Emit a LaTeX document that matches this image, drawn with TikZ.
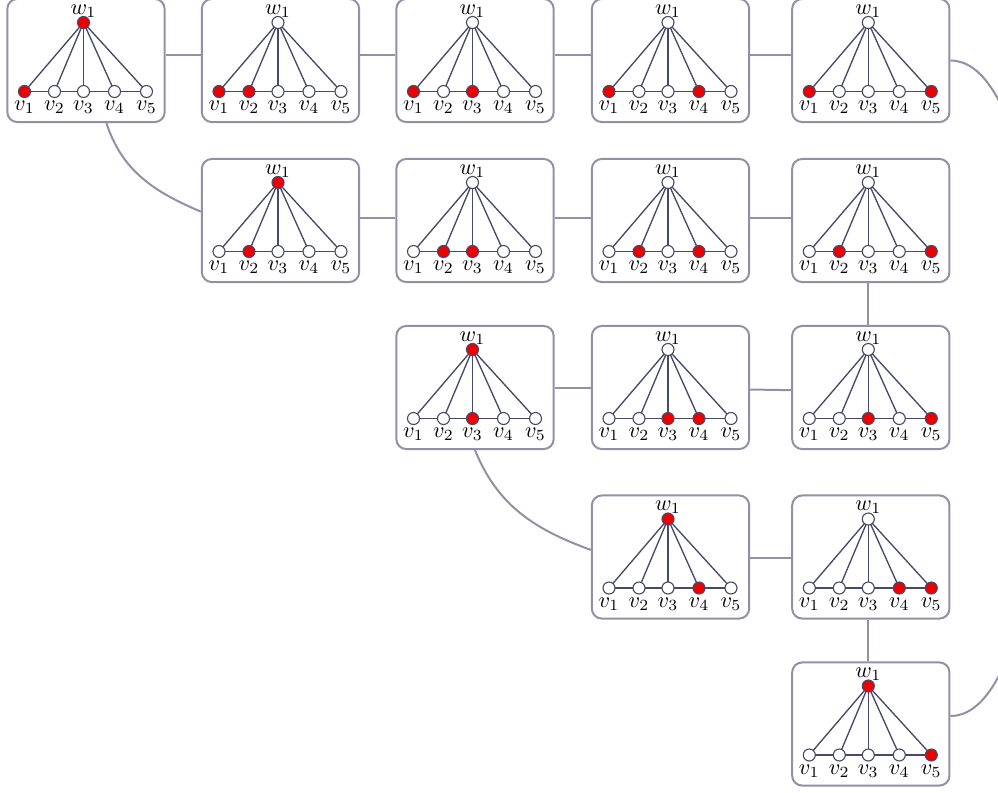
\documentclass[tikz,border=0pt]{standalone}
\usetikzlibrary{calc}
\definecolor{vred}{RGB}{236,0,0}
\definecolor{edgec}{RGB}{72,72,104}
\definecolor{framec}{RGB}{146,144,166}
\tikzset{
  gbox/.style={draw=framec, line width=0.9pt, rounded corners=4.5pt, fill=white,
    minimum width=70.8pt, minimum height=55.4pt, inner sep=0pt},
  vtx/.style={circle, draw=edgec, line width=0.5pt, minimum size=5.4pt, inner sep=0pt},
  gedge/.style={draw=edgec, line width=0.6pt},
  conn/.style={draw=framec, line width=0.9pt},
  vlab/.style={inner sep=0pt}
}
% #1 name, #2 x, #3 y, #4 fill of w1, #5 fills of v1..v5
\newcommand\gbox[5]{%
  \node[gbox] (#1) at (#2,#3) {};
  \begin{scope}[shift={(#2,#3)}]
    \node[vlab] (#1lw) at (-2.5,-49.5) {$w_1$};
    \coordinate (#1cw) at (-2.5,-38);
    \foreach \xx [count=\i] in {-61.5,-31.5,-2.5,28.5,60.5} {
      \coordinate (#1c\i) at (\xx,31);
      \node[vlab] (#1l\i) at (\xx,47) {$v_{\i}$};
    }
    \foreach \i in {1,...,5} { \draw[gedge] (#1cw) -- (#1c\i); }
    \draw[gedge] (#1c1) -- (#1c2) -- (#1c3) -- (#1c4) -- (#1c5);
    \node[vtx, fill=#4] (#1w) at (#1cw) {};
    \foreach \f [count=\i] in {#5} { \node[vtx, fill=\f] (#1v\i) at (#1c\i) {}; }
  \end{scope}
}
\begin{document}
\begin{tikzpicture}[x=0.45pt, y=-0.45pt]
\useasboundingbox (0,0) rectangle (998,792);
% boxes
\gbox{b11}{86}{60.5}{vred}{vred,white,white,white,white}
\gbox{b12}{280.5}{60.5}{white}{vred,vred,white,white,white}
\gbox{b13}{475}{60.5}{white}{vred,white,vred,white,white}
\gbox{b14}{670.5}{60.5}{white}{vred,white,white,vred,white}
\gbox{b15}{870.8}{60.5}{white}{vred,white,white,white,vred}
\gbox{b22}{280.5}{220.5}{vred}{white,vred,white,white,white}
\gbox{b23}{475}{220.5}{white}{white,vred,vred,white,white}
\gbox{b24}{670.5}{220.5}{white}{white,vred,white,vred,white}
\gbox{b25}{870.8}{220.5}{white}{white,vred,white,white,vred}
\gbox{b33}{475}{387.5}{vred}{white,white,vred,white,white}
\gbox{b34}{670.5}{387.5}{white}{white,white,vred,vred,white}
\gbox{b35}{870.8}{387.5}{white}{white,white,vred,white,vred}
\gbox{b44}{670.5}{557}{vred}{white,white,white,vred,white}
\gbox{b45}{870.8}{557}{white}{white,white,white,vred,vred}
\gbox{b55}{870.8}{724}{vred}{white,white,white,white,vred}
% connectors
\foreach \a/\b in {b11/b12,b12/b13,b13/b14,b14/b15}
  \draw[conn] ([yshift=2.7pt]\a.east) -- ([yshift=2.7pt]\b.west);
\foreach \a/\b in {b22/b23,b23/b24,b24/b25}
  \draw[conn] ([yshift=1.3pt]\a.east) -- ([yshift=1.3pt]\b.west);
\draw[conn] ([yshift=-0.3pt]b33.east) -- ([yshift=-0.3pt]b34.west);
\draw[conn] ([yshift=-0.9pt]b34.east) -- ([yshift=-1.2pt]b35.west);
\draw[conn] ([yshift=-0.4pt]b44.east) -- ([yshift=-0.4pt]b45.west);
\draw[conn] ([xshift=-1.1pt]b25.south) -- ([xshift=-1.1pt]b35.north);
\draw[conn] ([xshift=-1.1pt]b45.south) -- ([xshift=-1.1pt]b55.north);
\draw[conn] ([xshift=9.2pt]b11.south) to[out=-72, in=157] ([yshift=4pt]b22.west);
\draw[conn] (b33.south) to[out=-68, in=160] ([yshift=3.2pt]b44.west);
\begin{scope}
  \clip (0,0) rectangle (998,792);
  \draw[conn] (b15.east) .. controls +(126,0) and +(126,0) .. ([yshift=3.6pt]b55.east);
\end{scope}
\end{tikzpicture}
\end{document}
